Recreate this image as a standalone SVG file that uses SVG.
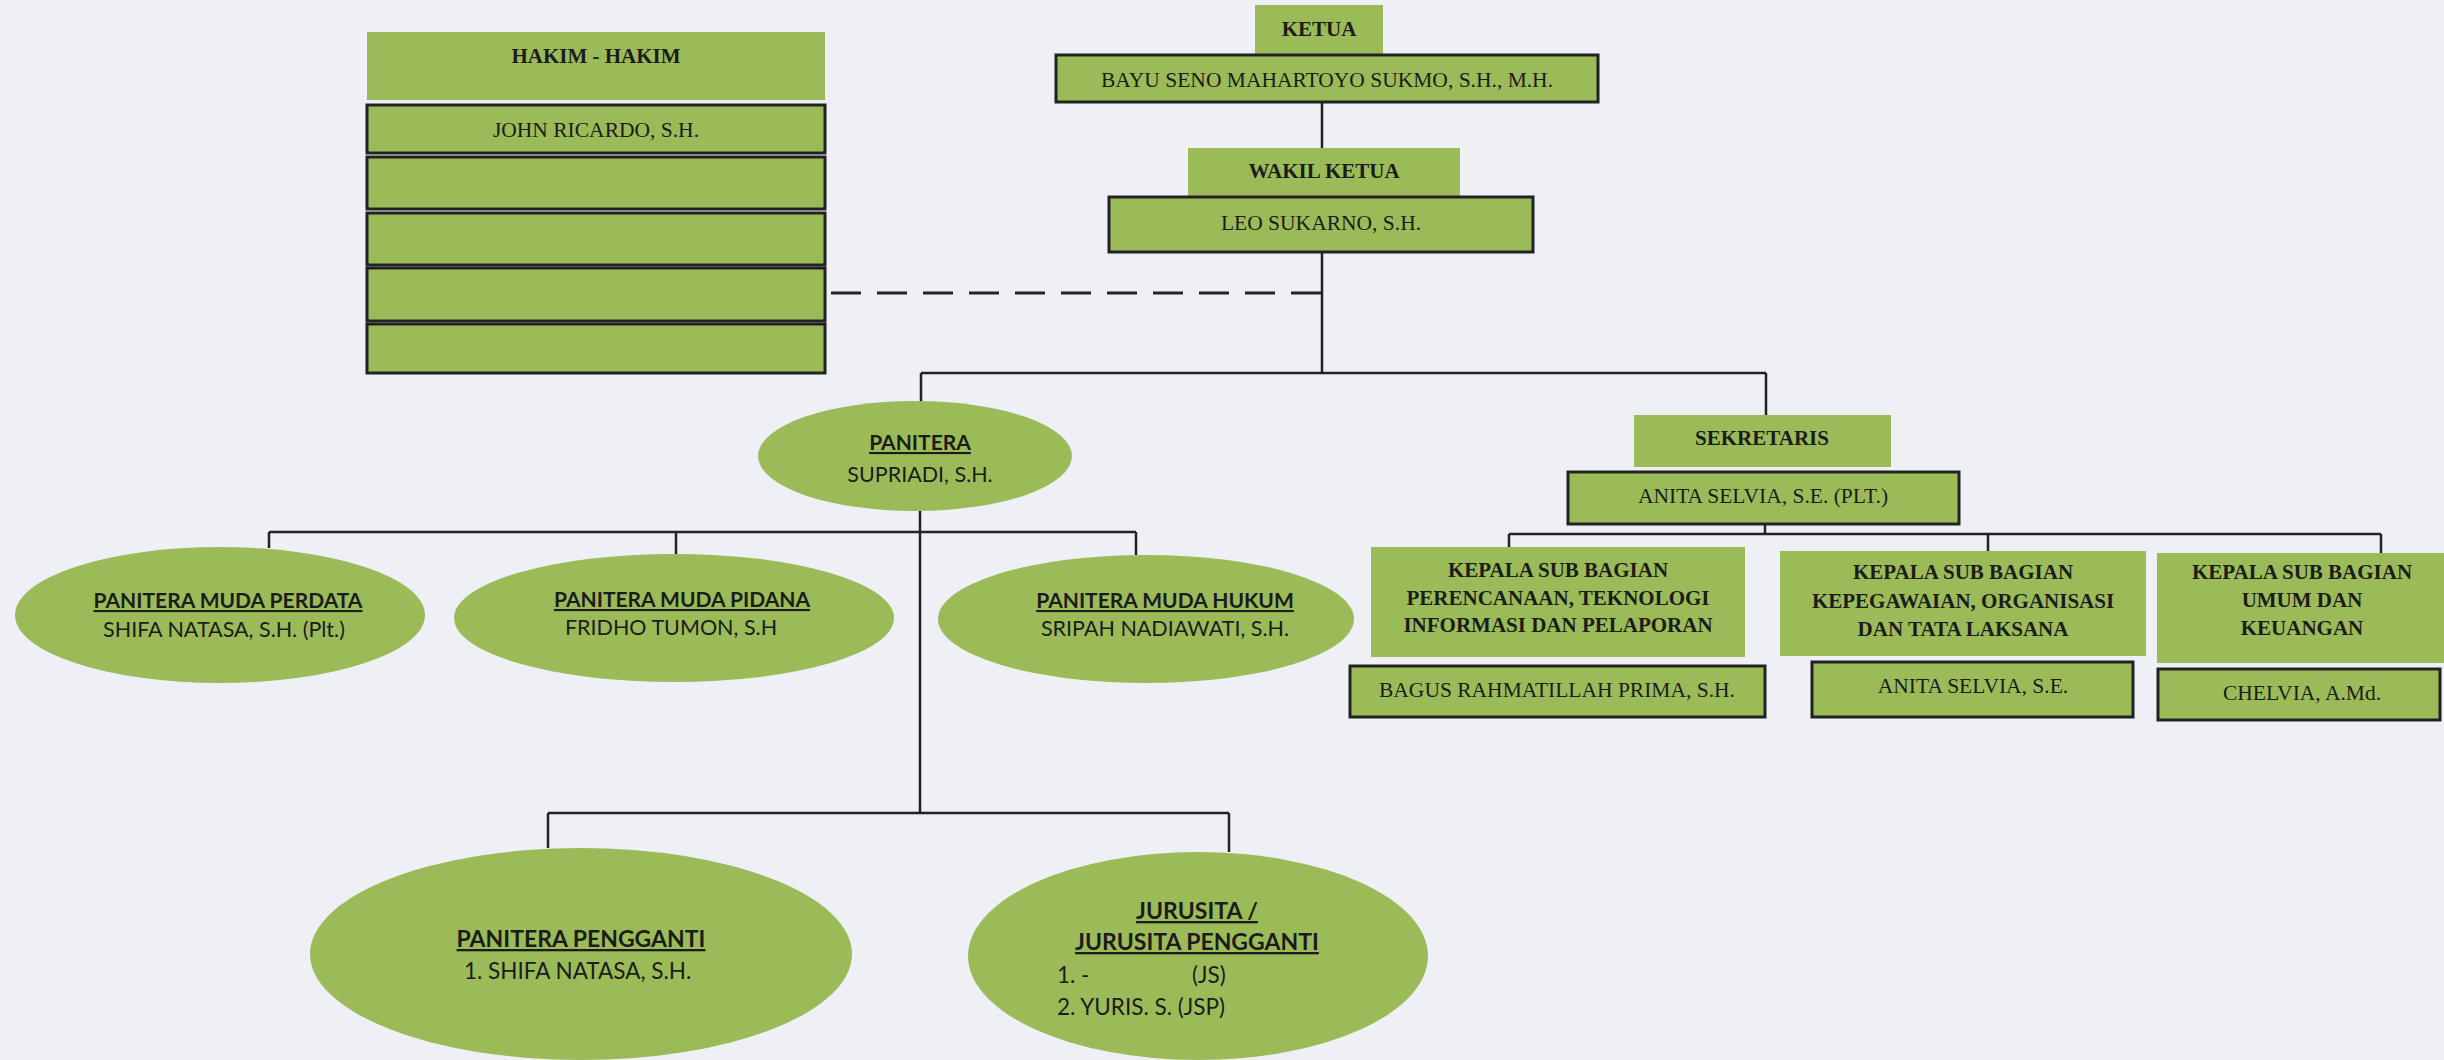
<svg xmlns="http://www.w3.org/2000/svg" width="2444" height="1060" viewBox="0 0 2444 1060">
<style>
.bg{fill:#eef0f6}
.hdr{fill:#9bbb59}
.box{fill:#9bbb59;stroke:#222;stroke-width:3}
.ell{fill:#9bbb59}
.ln{stroke:#222;stroke-width:2.5;fill:none}
.dash{stroke:#222;stroke-width:3;fill:none;stroke-dasharray:30 16}
.sb{font-family:"Liberation Serif","Times New Roman",serif;font-weight:bold;font-size:21px;fill:#1c1c1c;text-anchor:middle}
.sr{font-family:"Liberation Serif","Times New Roman",serif;font-size:21.5px;fill:#1c1c1c;text-anchor:middle}
.nb{font-family:Lato,"Open Sans",sans-serif;font-weight:bold;font-size:21px;fill:#1c1c1c;text-anchor:middle;text-decoration:underline}
.nr{font-family:Lato,"Open Sans",sans-serif;font-size:21.5px;fill:#1c1c1c;text-anchor:middle}
.big{font-size:23px}
.nl{font-family:Lato,"Open Sans",sans-serif;font-size:22.5px;fill:#1c1c1c}
</style>
<rect class="bg" x="0" y="0" width="2444" height="1060"/>
<g id="connectors">
<line class="ln" x1="1322" y1="102" x2="1322" y2="148"/>
<line class="ln" x1="1322" y1="252" x2="1322" y2="373"/>
<line class="dash" x1="831" y1="293" x2="1322" y2="293"/>
<line class="ln" x1="921" y1="373" x2="1766" y2="373"/>
<line class="ln" x1="921" y1="373" x2="921" y2="402"/>
<line class="ln" x1="1766" y1="373" x2="1766" y2="415"/>
<line class="ln" x1="1765" y1="524" x2="1765" y2="534"/>
<line class="ln" x1="1509" y1="534" x2="2381" y2="534"/>
<line class="ln" x1="1509" y1="534" x2="1509" y2="547"/>
<line class="ln" x1="1988" y1="534" x2="1988" y2="551"/>
<line class="ln" x1="2381" y1="534" x2="2381" y2="553"/>
<line class="ln" x1="920" y1="511" x2="920" y2="813"/>
<line class="ln" x1="269" y1="532" x2="1136" y2="532"/>
<line class="ln" x1="269" y1="532" x2="269" y2="548"/>
<line class="ln" x1="676" y1="532" x2="676" y2="554"/>
<line class="ln" x1="1136" y1="532" x2="1136" y2="555"/>
<line class="ln" x1="548" y1="813" x2="1229" y2="813"/>
<line class="ln" x1="548" y1="813" x2="548" y2="848"/>
<line class="ln" x1="1229" y1="813" x2="1229" y2="852"/>
</g>
<g id="hakim">
<rect class="hdr" x="367" y="32" width="458" height="68"/>
<text class="sb" x="596" y="63">HAKIM - HAKIM</text>
<rect class="box" x="367" y="105" width="458" height="48"/>
<text class="sr" x="596" y="137">JOHN RICARDO, S.H.</text>
<rect class="box" x="367" y="157" width="458" height="52"/>
<rect class="box" x="367" y="213" width="458" height="52"/>
<rect class="box" x="367" y="268" width="458" height="53"/>
<rect class="box" x="367" y="324" width="458" height="49"/>
</g>
<g id="ketua">
<rect class="hdr" x="1255" y="5" width="128" height="50"/>
<text class="sb" x="1319" y="36">KETUA</text>
<rect class="box" x="1056" y="55" width="542" height="47"/>
<text class="sr" x="1327" y="87">BAYU SENO MAHARTOYO SUKMO, S.H., M.H.</text>
</g>
<g id="wakil">
<rect class="hdr" x="1188" y="148" width="272" height="49"/>
<text class="sb" x="1324" y="178">WAKIL KETUA</text>
<rect class="box" x="1109" y="197" width="424" height="55"/>
<text class="sr" x="1321" y="230">LEO SUKARNO, S.H.</text>
</g>
<g id="sekretaris">
<rect class="hdr" x="1634" y="415" width="257" height="52"/>
<text class="sb" x="1762" y="445">SEKRETARIS</text>
<rect class="box" x="1568" y="472" width="391" height="52"/>
<text class="sr" x="1763" y="503">ANITA SELVIA, S.E. (PLT.)</text>
</g>
<g id="ksb-perencanaan">
<rect class="hdr" x="1371" y="547" width="374" height="110"/>
<text class="sb" x="1558" y="577">KEPALA SUB BAGIAN</text>
<text class="sb" x="1558" y="605">PERENCANAAN, TEKNOLOGI</text>
<text class="sb" x="1558" y="632">INFORMASI DAN PELAPORAN</text>
<rect class="box" x="1350" y="666" width="415" height="51"/>
<text class="sr" x="1557" y="697">BAGUS RAHMATILLAH PRIMA, S.H.</text>
</g>
<g id="ksb-kepegawaian">
<rect class="hdr" x="1780" y="551" width="366" height="105"/>
<text class="sb" x="1963" y="579">KEPALA SUB BAGIAN</text>
<text class="sb" x="1963" y="608">KEPEGAWAIAN, ORGANISASI</text>
<text class="sb" x="1963" y="636">DAN TATA LAKSANA</text>
<rect class="box" x="1812" y="662" width="321" height="55"/>
<text class="sr" x="1973" y="693">ANITA SELVIA, S.E.</text>
</g>
<g id="ksb-umum">
<rect class="hdr" x="2157" y="553" width="287" height="110"/>
<text class="sb" x="2302" y="579">KEPALA SUB BAGIAN</text>
<text class="sb" x="2302" y="607">UMUM DAN</text>
<text class="sb" x="2302" y="635">KEUANGAN</text>
<rect class="box" x="2158" y="669" width="282" height="51"/>
<text class="sr" x="2302" y="700">CHELVIA, A.Md.</text>
</g>
<g id="panitera">
<ellipse class="ell" cx="915" cy="456" rx="157" ry="55"/>
<text class="nb" x="920" y="450">PANITERA</text>
<text class="nr" x="920" y="482">SUPRIADI, S.H.</text>
</g>
<g id="pm-perdata">
<ellipse class="ell" cx="220" cy="615" rx="205" ry="68"/>
<text class="nb" x="228" y="608">PANITERA MUDA PERDATA</text>
<text class="nr" x="224" y="637">SHIFA NATASA, S.H. (Plt.)</text>
</g>
<g id="pm-pidana">
<ellipse class="ell" cx="674" cy="618" rx="220" ry="64"/>
<text class="nb" x="682" y="607">PANITERA MUDA PIDANA</text>
<text class="nr" x="671" y="635">FRIDHO TUMON, S.H</text>
</g>
<g id="pm-hukum">
<ellipse class="ell" cx="1146" cy="619" rx="208" ry="64"/>
<text class="nb" x="1165" y="608">PANITERA MUDA HUKUM</text>
<text class="nr" x="1165" y="636">SRIPAH NADIAWATI, S.H.</text>
</g>
<g id="panitera-pengganti">
<ellipse class="ell" cx="581" cy="954" rx="271" ry="106"/>
<text class="nb big" x="581" y="947">PANITERA PENGGANTI</text>
<text class="nl" x="464" y="979">1. SHIFA NATASA, S.H.</text>
</g>
<g id="jurusita">
<ellipse class="ell" cx="1198" cy="956" rx="230" ry="104"/>
<text class="nb big" x="1197" y="919">JURUSITA /</text>
<text class="nb big" x="1197" y="950">JURUSITA PENGGANTI</text>
<text class="nl" x="1057" y="983">1. -</text>
<text class="nl" x="1192" y="983">(JS)</text>
<text class="nl" x="1057" y="1015">2. YURIS. S. (JSP)</text>
</g>
</svg>
